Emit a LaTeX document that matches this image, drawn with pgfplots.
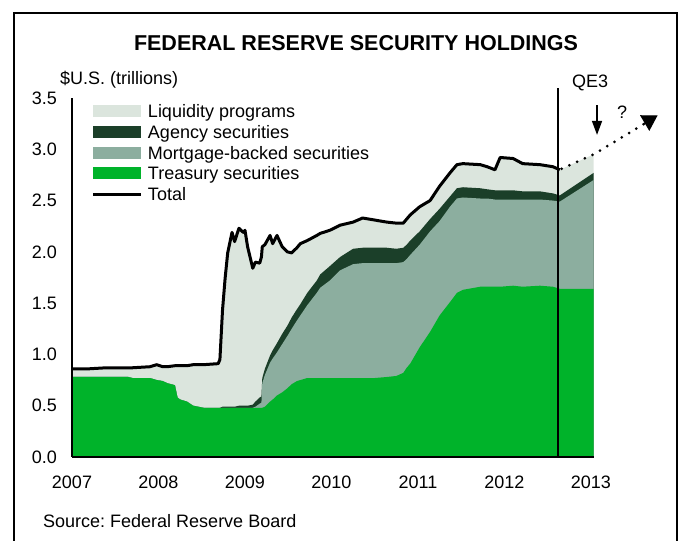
\documentclass[border=0pt]{standalone}
\usepackage{fontspec}
\setmainfont{Liberation Sans}
\usepackage{pgfplots}
\usepackage{pgfplotstable}
\pgfplotsset{compat=1.18}
\usetikzlibrary{arrows.meta}
\frenchspacing
\definecolor{treas}{HTML}{00B32A}
\definecolor{mbs}{HTML}{8CAE9F}
\definecolor{agcy}{HTML}{1B3F29}
\definecolor{liq}{HTML}{DBE5DD}
\pgfplotstableread{
x treas mbs ag tot
2007.00 0.78 0.78 0.78 0.86
2007.20 0.78 0.78 0.78 0.86
2007.40 0.78 0.78 0.78 0.87
2007.65 0.78 0.78 0.78 0.87
2007.70 0.77 0.77 0.77 0.87
2007.90 0.77 0.77 0.77 0.88
2007.98 0.75 0.75 0.75 0.90
2008.05 0.74 0.74 0.74 0.88
2008.10 0.72 0.72 0.72 0.88
2008.19 0.70 0.70 0.70 0.89
2008.22 0.58 0.58 0.58 0.89
2008.25 0.56 0.56 0.56 0.89
2008.33 0.54 0.54 0.54 0.89
2008.40 0.50 0.50 0.50 0.90
2008.52 0.48 0.48 0.48 0.90
2008.69 0.48 0.48 0.48 0.91
2008.71 0.48 0.48 0.48 0.95
2008.74 0.48 0.48 0.49 1.43
2008.77 0.48 0.48 0.49 1.74
2008.80 0.48 0.48 0.49 1.99
2008.85 0.48 0.48 0.49 2.19
2008.88 0.48 0.48 0.49 2.10
2008.93 0.48 0.48 0.50 2.23
2008.98 0.48 0.48 0.50 2.19
2009.00 0.48 0.48 0.50 2.21
2009.03 0.48 0.48 0.50 2.05
2009.09 0.48 0.48 0.51 1.84
2009.12 0.48 0.49 0.54 1.90
2009.17 0.48 0.52 0.58 1.89
2009.19 0.48 0.53 0.59 1.95
2009.20 0.48 0.72 0.77 2.05
2009.23 0.49 0.80 0.86 2.07
2009.29 0.54 0.92 0.99 2.16
2009.32 0.56 0.96 1.04 2.08
2009.37 0.60 1.02 1.11 2.16
2009.43 0.63 1.10 1.20 2.05
2009.49 0.67 1.18 1.28 2.00
2009.54 0.71 1.25 1.36 1.99
2009.60 0.74 1.33 1.44 2.04
2009.64 0.75 1.38 1.49 2.08
2009.72 0.77 1.48 1.60 2.11
2009.83 0.77 1.60 1.72 2.16
2009.87 0.77 1.65 1.78 2.18
2009.98 0.77 1.72 1.86 2.21
2010.10 0.77 1.82 1.95 2.26
2010.25 0.77 1.88 2.03 2.29
2010.36 0.77 1.89 2.04 2.33
2010.50 0.77 1.89 2.04 2.31
2010.64 0.78 1.89 2.04 2.29
2010.75 0.79 1.89 2.03 2.28
2010.83 0.82 1.90 2.04 2.28
2010.87 0.87 1.93 2.07 2.32
2010.91 0.91 1.97 2.11 2.36
2011.02 1.07 2.07 2.20 2.44
2011.14 1.22 2.20 2.32 2.50
2011.25 1.38 2.30 2.42 2.64
2011.37 1.51 2.44 2.54 2.77
2011.45 1.60 2.52 2.62 2.85
2011.52 1.63 2.53 2.63 2.86
2011.72 1.66 2.52 2.62 2.85
2011.80 1.66 2.52 2.61 2.83
2011.89 1.66 2.51 2.60 2.80
2011.95 1.66 2.51 2.60 2.92
2012.10 1.67 2.51 2.60 2.91
2012.21 1.66 2.51 2.59 2.86
2012.41 1.67 2.51 2.59 2.85
2012.56 1.66 2.50 2.57 2.83
2012.64 1.64 2.49 2.55 2.80
2013.03 1.64 2.70 2.77 2.95
}\fed
\begin{document}
\begin{tikzpicture}[x=1pt,y=1pt]
\useasboundingbox (0,0) rectangle (679,540);
\draw[line width=2.5pt] (14,527) rectangle (677,-20);
\node[font=\fontsize{21.5}{24}\selectfont\bfseries] at (356,497) {FEDERAL RESERVE SECURITY HOLDINGS};
\node[font=\fontsize{18}{20}\selectfont, anchor=west, inner sep=0pt] at (60,460) {\$U.S. (trillions)};
\node[font=\fontsize{18}{20}\selectfont, anchor=west, inner sep=0pt] at (43,19) {Source: Federal Reserve Board};
\begin{axis}[
  at={(72pt,83pt)}, anchor=south west, scale only axis,
  width=522pt, height=359pt,
  xmin=2007, xmax=2013.035, ymin=0, ymax=3.5,
  axis x line=bottom, axis y line=left,
  axis line style={-, line width=2.2pt},
  axis on top, clip=false,
  xtick={2007,2008,2009,2010,2011,2012,2013},
  ytick={0,0.5,1,1.5,2,2.5,3,3.5},
  major tick length=0pt,
  /pgf/number format/assume math mode=true,
  tick label style={font=\fontsize{18}{20}\selectfont},
  xticklabel style={anchor=north, inner sep=0pt, yshift=-19pt, /pgf/number format/1000 sep={}},
  yticklabel style={anchor=east, inner sep=0pt, xshift=-15pt, /pgf/number format/.cd, fixed, fixed zerofill, precision=1},
  legend style={at={(0.0383,0.982)}, anchor=north west, draw=none, fill=none,
    inner sep=0pt, outer sep=0pt, row sep=7.8pt, column sep=5pt,
    font=\fontsize{18}{20}\selectfont,
    nodes={inner sep=0pt, text height=13pt, text depth=0pt},
    cells={anchor=west}},
  boxleg/.style={legend image code/.code={\fill[##1] (0pt,-6pt) rectangle (48pt,6pt);}},
  lineleg/.style={legend image code/.code={\draw[##1] (0pt,0pt) -- (48pt,0pt);}},
]
\addplot[fill=liq, draw=none, boxleg] table[x=x,y=tot] {\fed} \closedcycle;
\addlegendentry{Liquidity programs}
\addplot[fill=agcy, draw=none, boxleg] table[x=x,y=ag] {\fed} \closedcycle;
\addlegendentry{Agency securities}
\addplot[fill=mbs, draw=none, boxleg] table[x=x,y=mbs] {\fed} \closedcycle;
\addlegendentry{Mortgage-backed securities}
\addplot[fill=treas, draw=none, boxleg] table[x=x,y=treas] {\fed} \closedcycle;
\addlegendentry{Treasury securities}
\addplot[black, line width=3pt, line join=round, lineleg, restrict x to domain=2007:2012.645] table[x=x,y=tot] {\fed};
\addlegendentry{Total}
\addplot[black, line width=3pt, line cap=round, dash pattern=on 0pt off 8.5pt, forget plot]
  coordinates {(2012.66,2.81) (2013.03,2.95) (2013.62,3.25)};
\draw[line width=1pt, -{Triangle[width=18pt,length=15pt]}] (axis cs:2013.60,3.245) -- (axis cs:2013.77,3.33);
\draw[line width=2pt] (axis cs:2012.615,0) -- (axis cs:2012.615,3.60);
\node[font=\fontsize{18}{20}\selectfont] at (axis cs:2012.99,3.645) {QE3};
\draw[line width=1.5pt, -{Triangle[width=10pt,length=14pt]}] (axis cs:2013.07,3.43) -- (axis cs:2013.07,3.14);
\node[font=\fontsize{18}{20}\selectfont] at (axis cs:2013.36,3.36) {?};
\end{axis}
\end{tikzpicture}
\end{document}
